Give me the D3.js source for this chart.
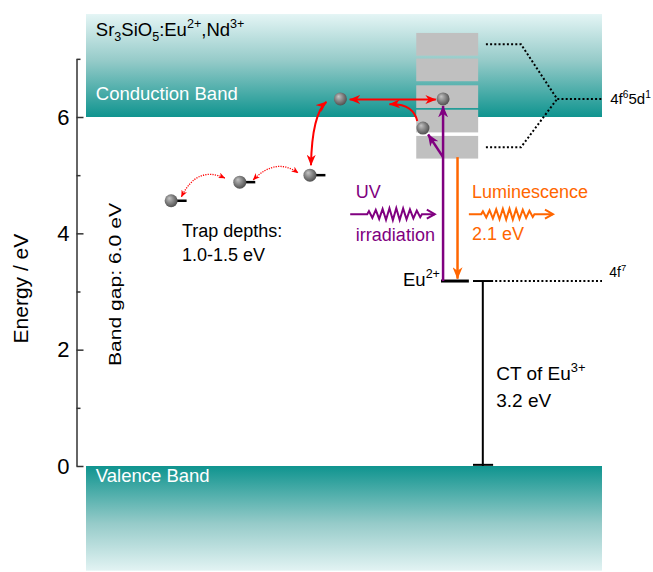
<!DOCTYPE html>
<html>
<head>
<meta charset="utf-8">
<script src="https://cdn.jsdelivr.net/npm/d3@7"></script>
<style>
body { margin: 0; background: #fff; }
svg { font-family: "Liberation Sans", Arial, sans-serif; }
</style>
</head>
<body>
<div id="chart"></div>
<script>
let width = 653;
let height = 572;

// energies in eV; x positions in schematic units (0-100 across the bands)
let yTicks = [0, 2, 4, 6];
let yMinor = [1, 3, 5, 7];
let cbTop = 7.77;
let bandGap = 6.0;
let vbBottom = -1.8;
let trapX = [16.5, 29.8, 43.4];
let trapE = [4.56, 4.88, 5.00];
let dLevels = [7.25, 6.81, 6.35, 5.93, 5.48];
let dLevelHeight = 0.39;
let d5Level = 6.31;
let euLevel = 3.18;
let cbElectrons = [{x: 49.3, e: 6.31}, {x: 69.2, e: 6.31}, {x: 65.3, e: 5.81}];

let x = d3.scaleLinear().domain([0, 100]).range([86, 602]);
let y = d3.scaleLinear().domain([0, 6]).range([466, 117]);

let svg = d3.select("#chart")
	.append("svg")
	.attr("width", width)
	.attr("height", height);

let defs = svg.append("defs");

let cbGrad = defs.append("linearGradient").attr("id", "cb").attr("x1", 0).attr("y1", 0).attr("x2", 0).attr("y2", 1);
cbGrad.append("stop").attr("offset", 0).attr("stop-color", "#e4f5f5");
cbGrad.append("stop").attr("offset", 0.45).attr("stop-color", "#96cbc9");
cbGrad.append("stop").attr("offset", 1).attr("stop-color", "#0f948f");

let vbGrad = defs.append("linearGradient").attr("id", "vb").attr("x1", 0).attr("y1", 0).attr("x2", 0).attr("y2", 1);
vbGrad.append("stop").attr("offset", 0).attr("stop-color", "#0f948f");
vbGrad.append("stop").attr("offset", 0.55).attr("stop-color", "#96cbc9");
vbGrad.append("stop").attr("offset", 1).attr("stop-color", "#e2f3f3");

let ball = defs.append("radialGradient").attr("id", "ball").attr("cx", "45%").attr("cy", "45%").attr("r", "60%").attr("fx", "35%").attr("fy", "30%");
ball.append("stop").attr("offset", 0).attr("stop-color", "#c4c4c4");
ball.append("stop").attr("offset", 0.6).attr("stop-color", "#7a7a7a");
ball.append("stop").attr("offset", 1).attr("stop-color", "#4a4a4a");

function marker(id, color, w, h) {
	defs.append("marker")
		.attr("id", id)
		.attr("markerUnits", "userSpaceOnUse")
		.attr("markerWidth", w)
		.attr("markerHeight", h)
		.attr("viewBox", `0 0 ${w} ${h}`)
		.attr("refX", w - 0.5)
		.attr("refY", h / 2)
		.attr("orient", "auto-start-reverse")
		.append("path")
		.attr("d", `M0,0 L${w},${h / 2} L0,${h} L${w * 0.3},${h / 2} Z`)
		.attr("fill", color);
}
marker("aRed", "#ff0000", 11, 9);
marker("aRedS", "#ff0000", 7, 6);
marker("aPur", "#800080", 12, 10);
marker("aOra", "#ff6600", 12, 10);

// bands
svg.append("rect")
	.attr("x", x(0)).attr("y", y(cbTop))
	.attr("width", x(100) - x(0)).attr("height", y(bandGap) - y(cbTop))
	.attr("fill", "url(#cb)");
svg.append("rect")
	.attr("x", x(0)).attr("y", y(0))
	.attr("width", x(100) - x(0)).attr("height", y(vbBottom) - y(0))
	.attr("fill", "url(#vb)");

// axis
let yAxisScale = y.copy().domain([0, 7]).range([y(0), y(7)]);
let axis = svg.append("g").attr("transform", `translate(${x(0) - 9.5},0)`);
axis.call(d3.axisLeft(yAxisScale).tickValues(yTicks).tickFormat(d3.format("d")).tickSize(-7).tickSizeOuter(0).tickPadding(7));
axis.append("g").call(d3.axisLeft(yAxisScale).tickValues(yMinor).tickSize(-4).tickFormat("")).select(".domain").remove();
axis.selectAll("path, line").attr("stroke", "#333").attr("stroke-width", 1.5);
axis.selectAll("text").attr("font-size", 22).attr("fill", "#000").attr("font-family", "Liberation Sans, Arial, sans-serif");

svg.append("text")
	.attr("transform", `translate(28,${y(3.05)}) rotate(-90)`)
	.attr("text-anchor", "middle")
	.attr("font-size", 21)
	.text("Energy / eV");

// 5d levels
svg.selectAll(".dl").data(dLevels).enter()
	.append("rect")
	.attr("x", x(64.0))
	.attr("y", d => y(d + dLevelHeight / 2))
	.attr("width", x(76.0) - x(64.0))
	.attr("height", d => y(d - dLevelHeight / 2) - y(d + dLevelHeight / 2))
	.attr("fill", "#c0c0c0");

let line = d3.line().x(d => x(d[0])).y(d => y(d[1]));
let dotted = [
	[[77.5, dLevels[0]], [84.3, dLevels[0]], [91.3, d5Level], [100, d5Level]],
	[[77.5, dLevels[4]], [84.3, dLevels[4]], [91.3, d5Level]],
	[[79.3, euLevel], [100, euLevel]]
];
svg.selectAll(".dot").data(dotted).enter()
	.append("path")
	.attr("d", line)
	.attr("fill", "none")
	.attr("stroke", "#000")
	.attr("stroke-width", 2)
	.attr("stroke-dasharray", "2,2.2");

// Eu2+ ground level and CT of Eu3+
svg.append("path").attr("d", line([[68.8, euLevel], [74.2, euLevel]])).attr("stroke", "#000").attr("stroke-width", 3);
let ct = [
	[[75.0, euLevel], [78.9, euLevel]],
	[[76.9, euLevel], [76.9, 0]],
	[[75.0, 0.02], [78.9, 0.02]]
];
svg.selectAll(".ct").data(ct).enter()
	.append("path")
	.attr("d", line)
	.attr("stroke", "#000")
	.attr("stroke-width", 2);

// traps
svg.selectAll(".trap").data(trapX).enter()
	.append("path")
	.attr("d", (d, i) => line([[d + 0.9, trapE[i]], [d + 3.0, trapE[i]]]))
	.attr("stroke", "#000")
	.attr("stroke-width", 2.5);

// red arrows
let curve = (p0, c, p1) => `M${x(p0[0])},${y(p0[1])} Q${x(c[0])},${y(c[1])} ${x(p1[0])},${y(p1[1])}`;
let dottedArcs = [
	[[18.5, 4.63], [21.5, 5.17], [26.9, 4.95]],
	[[32.4, 4.92], [36.8, 5.31], [41.1, 5.04]]
];
svg.selectAll(".arc").data(dottedArcs).enter()
	.append("path")
	.attr("d", d => curve(d[0], d[1], d[2]))
	.attr("fill", "none")
	.attr("stroke", "#ff0000")
	.attr("stroke-width", 1.3)
	.attr("stroke-dasharray", "1.2,1.2")
	.attr("marker-start", "url(#aRedS)")
	.attr("marker-end", "url(#aRedS)");

svg.append("path")
	.attr("d", curve([43.6, 5.17], [43.8, 6.05], [46.6, 6.26]))
	.attr("fill", "none").attr("stroke", "#ff0000").attr("stroke-width", 2)
	.attr("marker-start", "url(#aRed)").attr("marker-end", "url(#aRed)");
svg.append("path")
	.attr("d", line([[51.1, 6.30], [67.8, 6.30]]))
	.attr("fill", "none").attr("stroke", "#ff0000").attr("stroke-width", 2)
	.attr("marker-start", "url(#aRed)").attr("marker-end", "url(#aRed)");
svg.append("path")
	.attr("d", curve([64.2, 5.93], [63.4, 6.24], [58.8, 6.22]))
	.attr("fill", "none").attr("stroke", "#ff0000").attr("stroke-width", 2)
	.attr("marker-end", "url(#aRed)");

// purple excitation and orange emission
svg.append("path")
	.attr("d", line([[69.2, euLevel], [69.2, 6.19]]))
	.attr("stroke", "#800080").attr("stroke-width", 2.5)
	.attr("marker-end", "url(#aPur)");
svg.append("path")
	.attr("d", line([[69.2, 5.31], [66.3, 5.70]]))
	.attr("stroke", "#800080").attr("stroke-width", 2.5)
	.attr("marker-end", "url(#aPur)");
svg.append("path")
	.attr("d", line([[72.0, 5.31], [72.0, 3.22]]))
	.attr("stroke", "#ff6600").attr("stroke-width", 2.5)
	.attr("marker-end", "url(#aOra)");

// electrons
let balls = cbElectrons.concat(trapX.map((d, i) => ({x: d, e: trapE[i]})));
svg.selectAll(".ball").data(balls).enter()
	.append("circle")
	.attr("cx", d => x(d.x))
	.attr("cy", d => y(d.e))
	.attr("r", 6.5)
	.attr("fill", "url(#ball)");

// wavy photon arrows
function wavy(x0, z0, z1, x1, e, amp, n, color) {
	let yy = y(e);
	let pts = [[x(x0), yy], [x(z0), yy]];
	let a = x(z0), b = x(z1);
	for (let i = 0; i < n * 2; i++) {
		let t = (i + 0.5) / (n * 2);
		let env = 0.45 + 0.55 * Math.sin(Math.PI * t);
		pts.push([a + (b - a) * t, yy + (i % 2 ? amp : -amp) * env]);
	}
	pts.push([b, yy], [x(x1), yy]);
	svg.append("path").attr("d", d3.line()(pts)).attr("fill", "none").attr("stroke", color).attr("stroke-width", 2).attr("stroke-linejoin", "miter");
	svg.append("path")
		.attr("d", d3.line()([[x(x1) - 8, yy - 4.5], [x(x1), yy], [x(x1) - 8, yy + 4.5]]))
		.attr("fill", "none").attr("stroke", color).attr("stroke-width", 2);
}
wavy(51.2, 54.5, 65.1, 67.6, 4.33, 6, 8, "#800080");
wavy(74.2, 76.6, 86.9, 90.5, 4.33, 5.5, 8, "#ff6600");

// text
function rich(px, py, parts, size, color, anchor) {
	let t = svg.append("text").attr("x", px).attr("y", py)
		.attr("font-size", size).attr("fill", color || "#000")
		.attr("text-anchor", anchor || "start");
	let cur = 0;
	parts.forEach(p => {
		let shift = p[1] === "sup" ? -0.42 * size : p[1] === "sub" ? 0.25 * size : 0;
		t.append("tspan").attr("dy", shift - cur).attr("font-size", p[1] ? size * 0.68 : size).text(p[0]);
		cur = shift;
	});
	return t;
}

rich(x(1.9), y(7.39), [["Sr"], ["3", "sub"], ["SiO"], ["5", "sub"], [":Eu"], ["2+", "sup"], [",Nd"], ["3+", "sup"]], 18.5);
rich(x(1.9), y(6.30), [["Conduction Band"]], 18.5, "#fff");
rich(x(1.9), y(-0.275), [["Valence Band"]], 18.5, "#fff");
rich(x(18.6), y(3.94), [["Trap depths:"]], 18);
rich(x(18.6), y(3.52), [["1.0-1.5 eV"]], 18);
rich(x(52.3), y(4.61), [["UV"]], 18, "#800080");
rich(x(52.3), y(3.87), [["irradiation"]], 18, "#800080");
rich(x(74.8), y(4.61), [["Luminescence"]], 18, "#ff6600");
rich(x(74.8), y(3.89), [["2.1 eV"]], 18, "#ff6600");
rich(x(68.6), y(3.10), [["Eu"], ["2+", "sup"]], 18.5, "#000", "end");
rich(x(79.5), y(1.48), [["CT of Eu"], ["3+", "sup"]], 19);
rich(x(79.5), y(1.01), [["3.2 eV"]], 19);
rich(x(101.6), y(6.22), [["4f"], ["6", "sup"], ["5d"], ["1", "sup"]], 15);
rich(x(101.4), y(3.25), [["4f"], ["7", "sup"]], 14);

svg.append("text")
	.attr("transform", `translate(${x(6.8)},${y(3.12)}) rotate(-90)`)
	.attr("text-anchor", "middle")
	.attr("font-size", 17)
	.attr("textLength", 163)
	.attr("lengthAdjust", "spacingAndGlyphs")
	.text("Band gap: 6.0 eV");
</script>
</body>
</html>
